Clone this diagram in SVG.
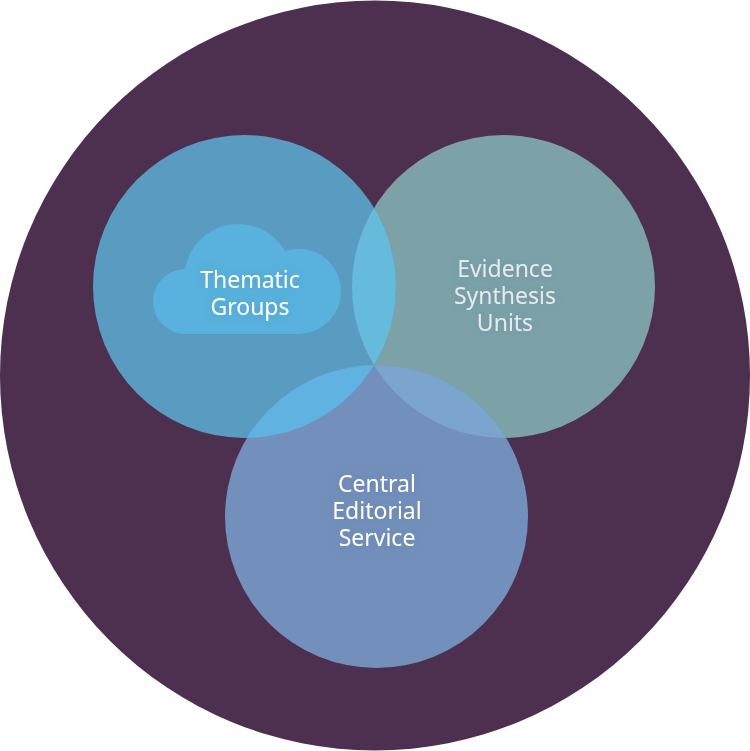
<svg xmlns="http://www.w3.org/2000/svg" width="750" height="751" viewBox="0 0 750 751">
  <style>
    text { font-family: "Noto Sans", "Open Sans", sans-serif; font-size: 23px; text-anchor: middle; filter: url(#glow); }
    .w { fill: #ffffff; }
    .g { fill: #e6eaed; }
  </style>
  <defs>
    <filter id="glow" x="-30%" y="-60%" width="160%" height="220%">
      <feGaussianBlur in="SourceAlpha" stdDeviation="5" result="b"/>
      <feFlood flood-color="#3d6a8a" flood-opacity="0.3"/>
      <feComposite in2="b" operator="in"/>
      <feMerge><feMergeNode/><feMergeNode in="SourceGraphic"/></feMerge>
    </filter>
    <clipPath id="clipA"><circle cx="244.500" cy="286.500" r="151.500"/></clipPath>
    <clipPath id="clipB"><circle cx="503.500" cy="286.500" r="151.500"/></clipPath>
  </defs>
  <circle id="background" cx="375" cy="375.500" r="375" fill="#4d3050"/>
  <g id="evidence-synthesis-units">
    <circle cx="503.500" cy="286.500" r="151.500" fill="#7ca2a8"/>
    <text class="g"><tspan x="505" y="277">Evidence</tspan><tspan x="505" y="304">Synthesis</tspan><tspan x="505" y="331">Units</tspan></text>
  </g>
  <g id="thematic-groups">
    <circle cx="244.500" cy="286.500" r="151.500" fill="#5a9bc2"/>
    <path d="M186,334 A32.500,32.500 0 0 1 185,269 A54,54 0 0 1 285,251 A42.500,42.500 0 0 1 341,291.500 A42.500,42.500 0 0 1 298.500,334 Z" fill="#58b2dd"/>
    <circle cx="503.500" cy="286.500" r="151.500" fill="#66bbdc" clip-path="url(#clipA)"/>
    <text class="w"><tspan x="250" y="288">Thematic</tspan><tspan x="250" y="315">Groups</tspan></text>
  </g>
  <g id="central-editorial-service">
    <circle cx="376.500" cy="516.500" r="151.500" fill="#738fbb"/>
    <circle cx="376.500" cy="516.500" r="151.500" fill="#60b2e0" clip-path="url(#clipA)"/>
    <circle cx="376.500" cy="516.500" r="151.500" fill="#7ba5cc" clip-path="url(#clipB)"/>
    <text class="w"><tspan x="377" y="492">Central</tspan><tspan x="377" y="519">Editorial</tspan><tspan x="377" y="546">Service</tspan></text>
  </g>
  <g id="connectors"/>
</svg>
